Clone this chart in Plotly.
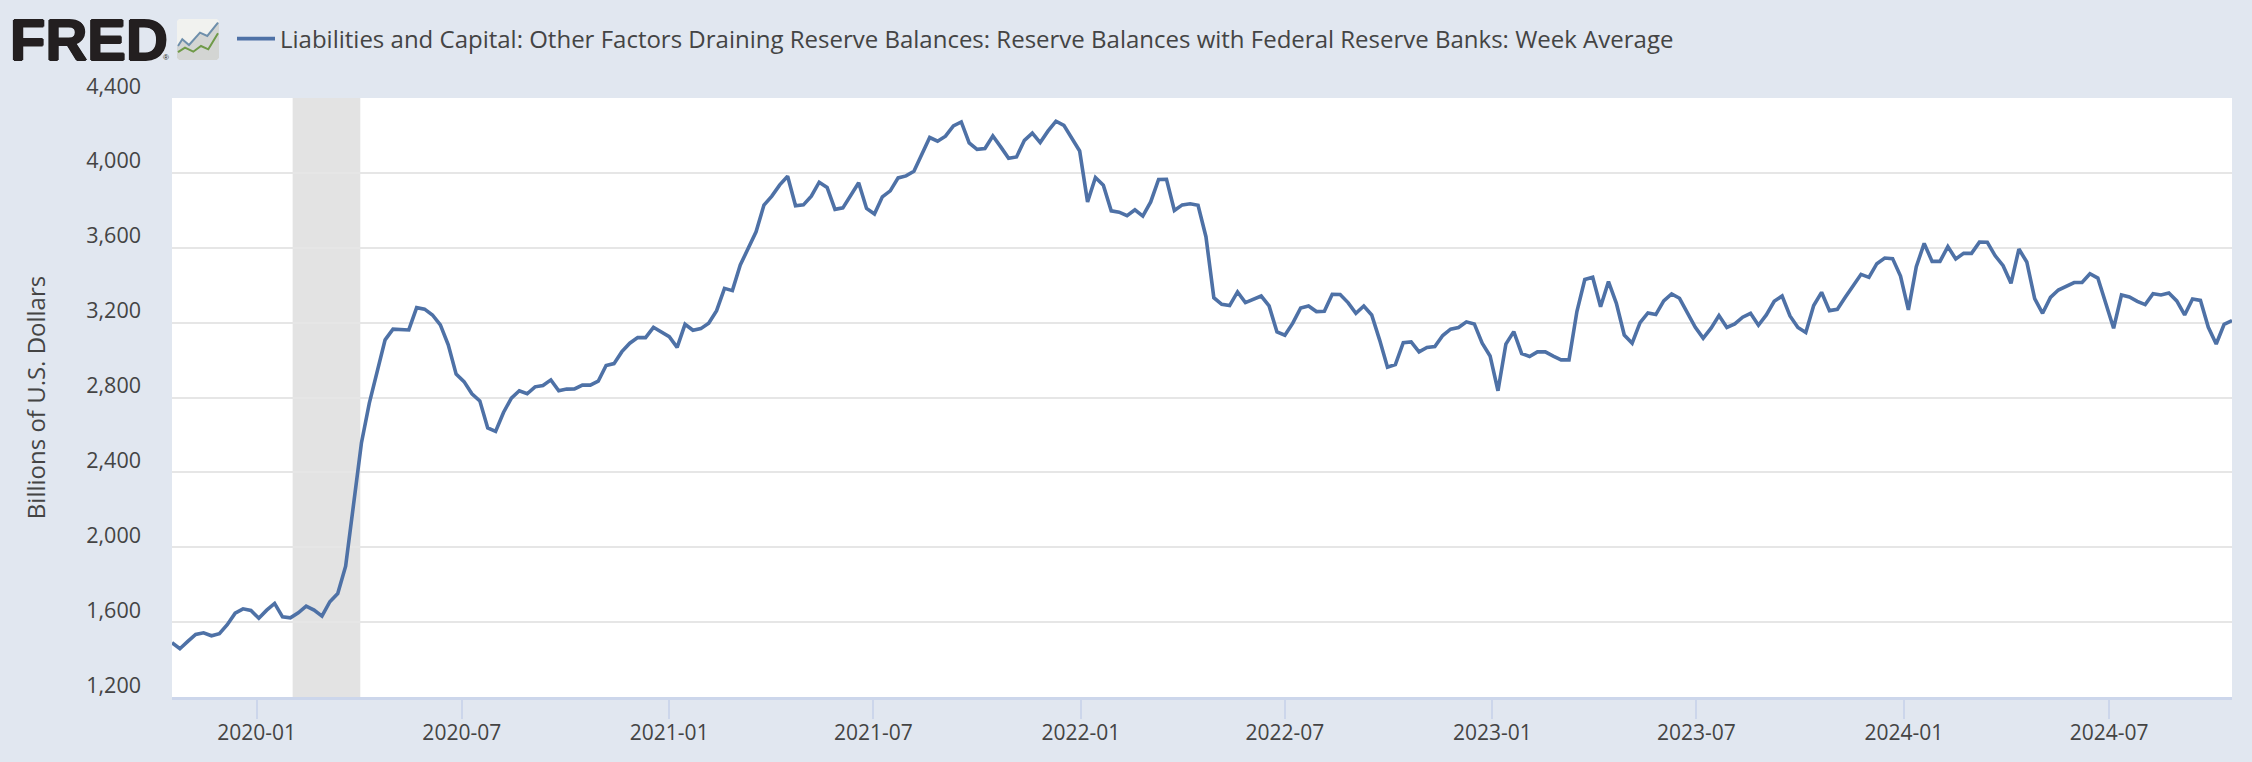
import pandas as pd
import plotly.graph_objects as go

# Weekly reserve balances, billions of U.S. dollars
week_start = "2019-10-18"
reserve_balances = [
    1490, 1458, 1497, 1534, 1543, 1527, 1538, 1586, 1648, 1671,
    1662, 1621, 1664, 1700, 1628, 1623, 1650, 1685, 1664, 1632,
    1709, 1753, 1899, 2219, 2557, 2770, 2939, 3108, 3165, 3161,
    3161, 3280, 3272, 3241, 3188, 3081, 2925, 2885, 2820, 2782,
    2637, 2619, 2720, 2797, 2836, 2820, 2857, 2864, 2894, 2836,
    2845, 2846, 2866, 2866, 2887, 2971, 2981, 3045, 3090, 3120,
    3120, 3175, 3148, 3125, 3068, 3191, 3159, 3168, 3197, 3264,
    3383, 3371, 3508, 3597, 3685, 3828, 3876, 3936, 3982, 3824,
    3829, 3876, 3950, 3922, 3805, 3813, 3876, 3947, 3810, 3780,
    3872, 3904, 3973, 3984, 4009, 4094, 4189, 4169, 4196, 4251,
    4272, 4160, 4126, 4130, 4197, 4139, 4078, 4085, 4174, 4212,
    4162, 4224, 4276, 4254, 4187, 4117, 3845, 3975, 3934, 3797,
    3790, 3771, 3803, 3769, 3845, 3965, 3966, 3799, 3829, 3835,
    3827, 3659, 3333, 3298, 3291, 3364, 3307, 3325, 3342, 3289,
    3150, 3133, 3197, 3278, 3289, 3259, 3261, 3351, 3350, 3307,
    3250, 3289, 3241, 3108, 2962, 2976, 3093, 3097, 3044, 3067,
    3072, 3131, 3165, 3174, 3204, 3193, 3090, 3022, 2836, 3085,
    3152, 3035, 3019, 3044, 3044, 3021, 3001, 3001, 3259, 3430,
    3442, 3285, 3419, 3303, 3134, 3090, 3200, 3252, 3243, 3316,
    3353, 3330, 3250, 3175, 3117, 3170, 3238, 3174, 3193, 3229,
    3250, 3186, 3241, 3314, 3342, 3236, 3174, 3147, 3291, 3362,
    3264, 3271, 3335, 3396, 3458, 3442, 3515, 3545, 3542, 3449,
    3268, 3499, 3623, 3527, 3527, 3606, 3540, 3570, 3570, 3630,
    3629, 3557, 3504, 3410, 3593, 3524, 3328, 3250, 3335, 3374,
    3394, 3414, 3414, 3461, 3438, 3303, 3170, 3348, 3337, 3314,
    3296, 3355, 3348, 3358, 3316, 3241, 3326, 3319, 3175, 3086,
    3191, 3211,
]
series_name = ("Liabilities and Capital: Other Factors Draining Reserve Balances: "
               "Reserve Balances with Federal Reserve Banks: Week Average")
y_ticks = [1200, 1600, 2000, 2400, 2800, 3200, 3600, 4000, 4400]
x_ticks = ["2020-01-01", "2020-07-01", "2021-01-01", "2021-07-01", "2022-01-01",
           "2022-07-01", "2023-01-01", "2023-07-01", "2024-01-01", "2024-07-01"]
x_tick_labels = ["2020-01", "2020-07", "2021-01", "2021-07", "2022-01",
                 "2022-07", "2023-01", "2023-07", "2024-01", "2024-07"]
recession = ("2020-02-02", "2020-04-02")

WIDTH, HEIGHT = 2252, 762
LEFT, RIGHT, TOP, BOTTOM = 172, 20, 98, 65
BG = "#e1e7f0"
LINE = "#4e71a6"
TEXT = "#444444"
FONT = "Open Sans"

dates = pd.date_range(week_start, periods=len(reserve_balances), freq="7D")


# Page pixels to paper coordinates, which run over the plot area only
def px(x):
    return (x - LEFT) / (WIDTH - LEFT - RIGHT)


def py(y):
    return (HEIGHT - BOTTOM - y) / (HEIGHT - TOP - BOTTOM)


def badge_path(points, close=False):
    path = "M " + " L ".join(f"{px(x):.5f},{py(y):.5f}" for x, y in points)
    return path + (" Z" if close else "")


# Badge drawn beside the wordmark
blue_trend = [(178, 46), (182.3, 39.3), (189, 45), (200, 32.7), (207.3, 36), (218, 22.7)]
green_trend = [(178, 52.2), (185, 47.7), (193.3, 51.7), (201, 46), (208.3, 49.3), (218, 33.3)]

fig = go.Figure()
fig.add_trace(go.Scatter(
    x=dates, y=reserve_balances, mode="lines", name=series_name,
    line=dict(color=LINE, width=3.6), showlegend=True,
))

shapes = [
    dict(type="rect", xref="x", yref="paper", x0=recession[0], x1=recession[1],
         y0=0, y1=1, fillcolor="#e3e3e3", line_width=0, layer="between"),
    dict(type="path", xref="paper", yref="paper", line_width=0, fillcolor="#f1f2ef", layer="above",
         path=badge_path([(179, 19), (217, 19), (219, 21), (219, 58), (217, 60),
                          (179, 60), (177, 58), (177, 21)], close=True)),
    dict(type="path", xref="paper", yref="paper", line_width=0, fillcolor="#d3d5d3", layer="above",
         path=badge_path(blue_trend + [(219, 22), (219, 58), (217, 60), (179, 60), (177, 58), (177, 46)],
                         close=True)),
    dict(type="path", xref="paper", yref="paper", path=badge_path(blue_trend),
         line=dict(color="#6e8fab", width=2), layer="above"),
    dict(type="path", xref="paper", yref="paper", path=badge_path(green_trend),
         line=dict(color="#6f9a48", width=2), layer="above"),
]

annotations = [
    dict(text="<b>FRED</b>", xref="paper", yref="paper", x=px(8), y=py(39.5), xanchor="left",
         yanchor="middle", showarrow=False,
         font=dict(family="Liberation Sans", size=58, color="#231f20",
                   shadow="1px 0 0 #231f20, -1px 0 0 #231f20, 0 1px 0 #231f20, 0 -1px 0 #231f20")),
    dict(text="®", xref="paper", yref="paper", x=px(166), y=py(57), xanchor="center",
         yanchor="middle", showarrow=False,
         font=dict(family="Liberation Sans", size=8, color="#231f20")),
]

fig.update_layout(
    width=WIDTH, height=HEIGHT, autosize=False,
    paper_bgcolor=BG, plot_bgcolor="#ffffff",
    margin=dict(l=LEFT, r=RIGHT, t=TOP, b=BOTTOM, pad=0),
    font=dict(family=FONT, size=21, color=TEXT),
    hovermode=False,
    showlegend=True,
    legend=dict(x=px(232), y=py(39), xanchor="left", yanchor="middle", orientation="h",
                bgcolor="rgba(0,0,0,0)", itemwidth=38, font=dict(family=FONT, size=24, color=TEXT)),
    shapes=shapes,
    annotations=annotations,
    xaxis=dict(
        type="date", range=[dates[0], dates[-1]],
        tickmode="array", tickvals=x_ticks, ticktext=x_tick_labels,
        ticks="outside", ticklen=19, tickwidth=1.5, tickcolor="#ccd6eb",
        ticklabelstandoff=-4,
        showline=True, linecolor="#ccd6eb", linewidth=3, showgrid=False, zeroline=False,
        tickfont=dict(family=FONT, size=21, color=TEXT),
    ),
    yaxis=dict(
        range=[1200, 4400], tickmode="array", tickvals=y_ticks,
        ticktext=[f"{v:,}" for v in y_ticks],
        gridcolor="#e6e6e6", gridwidth=2, zeroline=False, showline=False, ticks="",
        ticklabelstandoff=30, ticklabelshift=-12,
        tickfont=dict(family=FONT, size=21.5, color=TEXT),
        title=dict(text="Billions of U.S. Dollars", standoff=33,
                   font=dict(family=FONT, size=24, color=TEXT)),
    ),
)

fig.write_html("out.html")
